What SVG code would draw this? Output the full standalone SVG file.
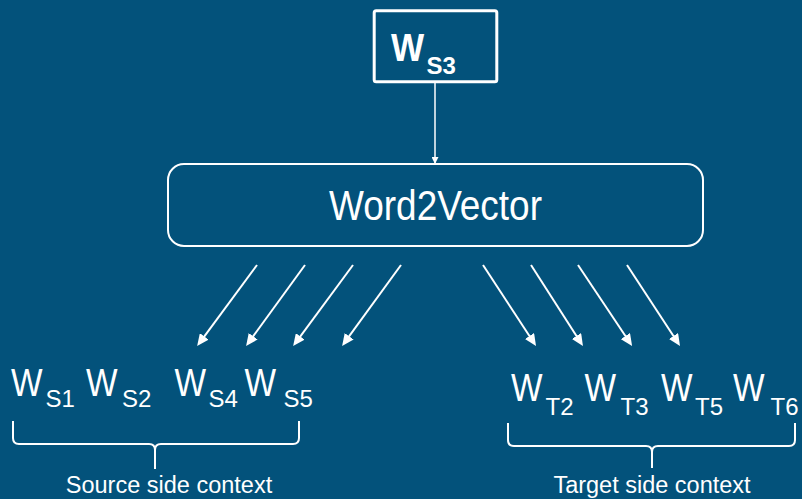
<svg xmlns="http://www.w3.org/2000/svg" width="802" height="499" viewBox="0 0 802 499">
  <style>
    text { font-family: "Liberation Sans", Arial, sans-serif; fill: #ffffff; }
    .box { fill: none; stroke: #ffffff; }
    .w { font-size: 38px; }
    .sub { font-size: 24px; }
    .label { font-size: 23.5px; text-anchor: middle; }
    .arrow { stroke: #ffffff; stroke-width: 2; fill: none; marker-end: url(#head); }
    .brace { stroke: #ffffff; stroke-width: 2; fill: none; stroke-linejoin: round; }
  </style>
  <defs>
    <marker id="head" viewBox="0 0 12 11" refX="3" refY="5.5" markerWidth="12" markerHeight="11" markerUnits="userSpaceOnUse" orient="auto">
      <path d="M0,0 L12,5.5 L0,11 z" fill="#ffffff"/>
    </marker>
    <marker id="headSmall" viewBox="0 0 7 7" refX="6" refY="3.5" markerWidth="7" markerHeight="7" markerUnits="userSpaceOnUse" orient="auto">
      <path d="M0,0 L7,3.5 L0,7 z" fill="#ffffff"/>
    </marker>
  </defs>

  <rect x="0" y="0" width="802" height="499" fill="#03527b"/>

  <!-- input word -->
  <g id="input-word">
    <rect class="box" x="374.2" y="10.8" width="122.6" height="71" rx="2" stroke-width="3"/>
    <text transform="translate(391,60.5) scale(0.9,1)" font-size="39" font-weight="bold">W</text>
    <text x="426.5" y="73.5" font-size="24" font-weight="bold">S3</text>
  </g>

  <!-- model -->
  <g id="word2vector">
    <rect class="box" x="168" y="164" width="535" height="82" rx="16" stroke-width="2"/>
    <text transform="translate(435.5,220) scale(0.88,1)" font-size="42" text-anchor="middle">Word2Vector</text>
  </g>

  <!-- source side words -->
  <g id="source-words">
    <text class="w" transform="translate(11,396) scale(0.88,1)">W</text><text class="sub" x="45.5" y="407">S1</text>
    <text class="w" transform="translate(86,396) scale(0.88,1)">W</text><text class="sub" x="122" y="407">S2</text>
    <text class="w" transform="translate(174.5,396) scale(0.88,1)">W</text><text class="sub" x="208.5" y="407">S4</text>
    <text class="w" transform="translate(244.5,396) scale(0.88,1)">W</text><text class="sub" x="283.5" y="407">S5</text>
  </g>

  <!-- target side words -->
  <g id="target-words">
    <text class="w" transform="translate(511,401) scale(0.88,1)">W</text><text class="sub" x="545.5" y="415">T2</text>
    <text class="w" transform="translate(584.5,401) scale(0.88,1)">W</text><text class="sub" x="620.5" y="415">T3</text>
    <text class="w" transform="translate(661,401) scale(0.88,1)">W</text><text class="sub" x="695" y="415">T5</text>
    <text class="w" transform="translate(733,401) scale(0.88,1)">W</text><text class="sub" x="770.5" y="415">T6</text>
  </g>

  <!-- context braces and captions -->
  <g id="source-context">
    <path class="brace" d="M13,421 V438 Q13,444 19,444 H149 Q155,444 155,450 V469 M155,450 Q155,444 161,444 H293 Q299,444 299,438 V421"/>
    <text class="label" x="169" y="493">Source side context</text>
  </g>
  <g id="target-context">
    <path class="brace" d="M508,423 V440 Q508,446 514,446 H646 Q652,446 652,452 V468 M652,452 Q652,446 658,446 H789 Q795,446 795,440 V423"/>
    <text class="label" x="652" y="493">Target side context</text>
  </g>

  <!-- connectors -->
  <g id="connectors">
    <line x1="435" y1="83" x2="435" y2="163" stroke="#ffffff" stroke-width="1.5" marker-end="url(#headSmall)"/>
    <line class="arrow" x1="257" y1="265" x2="202.5" y2="338.8"/>
    <line class="arrow" x1="305" y1="265" x2="251.4" y2="338.7"/>
    <line class="arrow" x1="353" y1="265" x2="298.5" y2="338.8"/>
    <line class="arrow" x1="401" y1="265" x2="347.4" y2="338.7"/>
    <line class="arrow" x1="483" y1="265" x2="531.1" y2="338.5"/>
    <line class="arrow" x1="531" y1="265" x2="578.1" y2="338.5"/>
    <line class="arrow" x1="578" y1="265" x2="627.1" y2="338.5"/>
    <line class="arrow" x1="627" y1="265" x2="675.1" y2="338.5"/>
  </g>
</svg>
